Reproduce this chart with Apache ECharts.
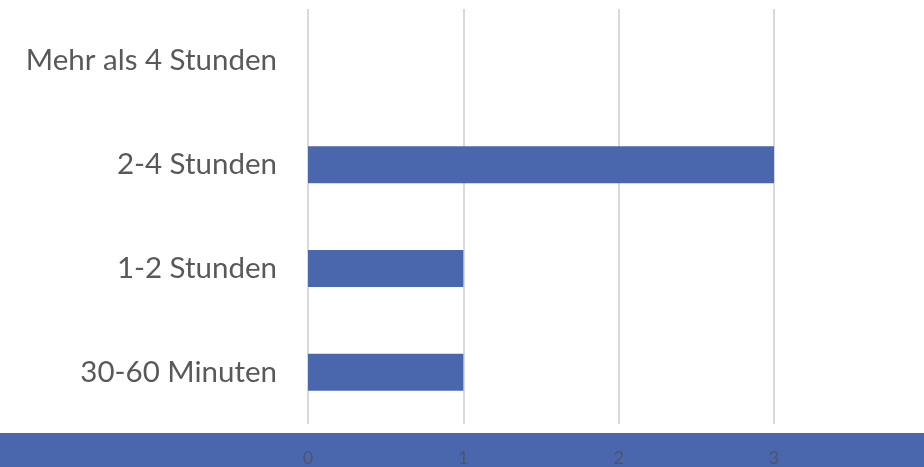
<!DOCTYPE html>
<html>
<head>
<meta charset="utf-8">
<style>
  html, body { margin: 0; padding: 0; background: #fff; }
  #main { width: 924px; height: 467px; }
</style>
<script src="https://cdn.jsdelivr.net/npm/echarts@6/dist/echarts.min.js"></script>
</head>
<body>
<div id="main"></div>
<script>
var categories = ['30-60 Minuten', '1-2 Stunden', '2-4 Stunden', 'Mehr als 4 Stunden'];
var counts = [1, 1, 3, 0];
var xTicks = [0, 1, 2, 3];

document.addEventListener('DOMContentLoaded', function() {
  var myChart = echarts.init(document.getElementById('main'));

  var option = {
    animation: false,
    grid: { left: 308, right: 150, top: 9, bottom: 43 },
    graphic: [
      {
        type: 'rect',
        z: -10,
        shape: { x: 0, y: 433, width: 924, height: 34 },
        style: { fill: '#4a67ad' }
      }
    ],
    xAxis: {
      type: 'value',
      min: xTicks[0],
      max: xTicks[xTicks.length - 1],
      interval: 1,
      axisLine: { show: false },
      axisTick: { show: false },
      splitLine: { lineStyle: { color: '#d9d9d9', width: 2 } },
      axisLabel: {
        margin: 25,
        color: '#4f5566',
        fontFamily: 'Lato',
        fontSize: 18
      }
    },
    yAxis: {
      type: 'category',
      data: categories,
      axisLine: { show: false },
      axisTick: { show: false },
      axisLabel: {
        margin: 31,
        color: '#595959',
        fontFamily: 'Lato',
        fontSize: 29.5
      }
    },
    series: [
      {
        type: 'bar',
        data: counts,
        barWidth: 37,
        itemStyle: { color: '#4a67ad' }
      }
    ]
  };

  myChart.setOption(option);
});
</script>
</body>
</html>
